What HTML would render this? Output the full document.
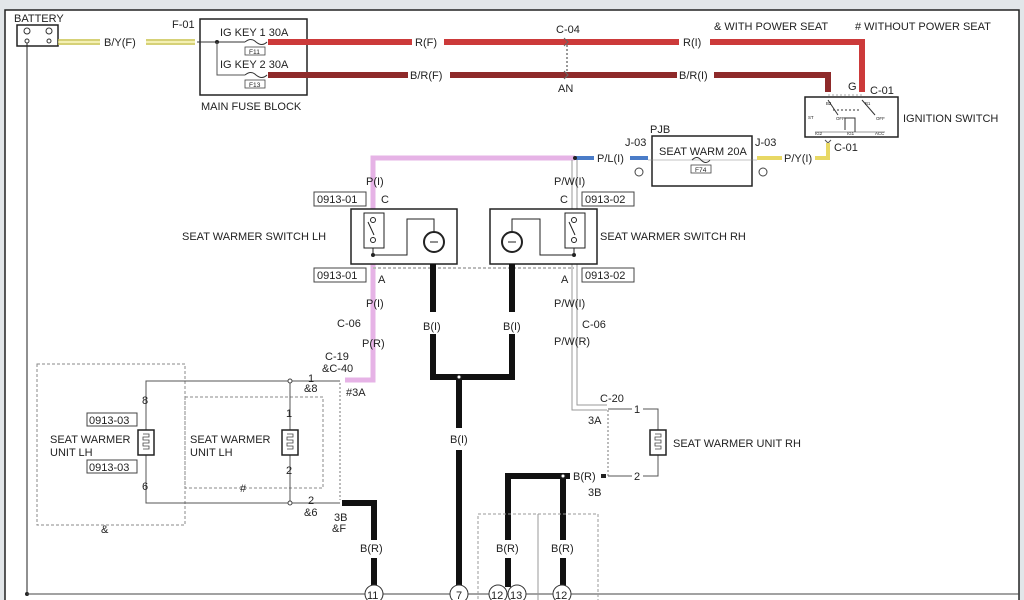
<!DOCTYPE html>
<html><head><meta charset="utf-8"><style>
html,body{margin:0;padding:0;background:#e2e6e9;}
svg{display:block;}
text{font-family:"Liberation Sans",sans-serif;font-size:11px;fill:#222;}
</style></head><body>
<svg width="1024" height="600" viewBox="0 0 1024 600" xmlns="http://www.w3.org/2000/svg">
<rect x="0" y="0" width="1024" height="600" fill="#e2e6e9"/>
<rect x="5" y="10" width="1014" height="600" fill="#fff" stroke="#222" stroke-width="1.5"/>

<!-- battery -->
<text x="14" y="22" font-size="10">BATTERY</text>
<rect x="17" y="25" width="41" height="21" fill="#fff" stroke="#222" stroke-width="1.5"/>
<circle cx="27" cy="31" r="3" fill="none" stroke="#333"/><circle cx="49" cy="31" r="3" fill="none" stroke="#333"/>
<circle cx="27" cy="41" r="2" fill="none" stroke="#333"/><circle cx="49" cy="41" r="2" fill="none" stroke="#333"/>
<line x1="27" y1="43" x2="27" y2="594" stroke="#222"/>
<circle cx="27" cy="594" r="2" fill="#222"/>
<line x1="27" y1="594" x2="1019" y2="594" stroke="#444"/>

<!-- B/Y(F) -->
<g stroke="#c9c24a" stroke-width="1.5"><line x1="58" y1="40" x2="100" y2="40"/><line x1="58" y1="44" x2="100" y2="44"/>
<line x1="146" y1="40" x2="195" y2="40"/><line x1="146" y1="44" x2="195" y2="44"/></g>
<g stroke="#f0ec9a" stroke-width="1.5"><line x1="58" y1="42" x2="100" y2="42"/><line x1="146" y1="42" x2="195" y2="42"/></g>
<text x="104" y="46">B/Y(F)</text>

<!-- main fuse block -->
<text x="172" y="28">F-01</text>
<rect x="200" y="19" width="107" height="76" fill="none" stroke="#222" stroke-width="1.5"/>
<text x="220" y="36" font-size="10">IG KEY 1 30A</text>
<text x="220" y="68" font-size="10">IG KEY 2 30A</text>
<line x1="197" y1="42" x2="245" y2="42" stroke="#333"/>
<circle cx="217" cy="42" r="2" fill="#222"/>
<polyline points="217,42 217,75 245,75" fill="none" stroke="#555"/>
<path d="M245 42 q6 -5 11 0 q6 5 11 0" fill="none" stroke="#333"/>
<path d="M245 75 q6 -5 11 0 q6 5 11 0" fill="none" stroke="#333"/>
<rect x="245" y="47" width="20" height="8" fill="#fff" stroke="#444" stroke-width=".8"/><text transform="translate(249,54) scale(0.6)" font-size="10">F11</text>
<rect x="245" y="80" width="20" height="8" fill="#fff" stroke="#444" stroke-width=".8"/><text transform="translate(249,87) scale(0.6)" font-size="10">F13</text>
<text x="201" y="110">MAIN FUSE BLOCK</text>

<!-- red wires -->
<g stroke="#cc3a3a" stroke-width="6" fill="none">
<line x1="268" y1="42" x2="412" y2="42"/><line x1="444" y1="42" x2="679" y2="42"/>
<polyline points="710,42 862,42 862,92"/></g>
<text x="415" y="46">R(F)</text><text x="683" y="46">R(I)</text>
<g stroke="#8e2a2a" stroke-width="6" fill="none">
<line x1="268" y1="75" x2="408" y2="75"/><line x1="450" y1="75" x2="677" y2="75"/>
<polyline points="714,75 828,75 828,92"/></g>
<text x="410" y="79">B/R(F)</text><text x="679" y="79">B/R(I)</text>
<text x="556" y="33">C-04</text><text x="558" y="92">AN</text>
<line x1="567" y1="45" x2="567" y2="72" stroke="#999" stroke-dasharray="2,2" stroke-width="2"/>
<path d="M564 38 l4 4 -4 4 M564 71 l4 4 -4 4" stroke="#666" fill="none"/>

<text x="714" y="30">&amp; WITH POWER SEAT</text>
<text x="855" y="30"># WITHOUT POWER SEAT</text>

<!-- ignition switch -->
<text x="848" y="90" font-size="12">G</text><text x="870" y="94">C-01</text>
<rect x="805" y="97" width="93" height="40" fill="#fff" stroke="#222" stroke-width="1.5"/>
<line x1="828" y1="95" x2="862" y2="95" stroke="#aaa" stroke-dasharray="2,2"/>
<g stroke="#333" fill="none" stroke-width="1">
<line x1="828" y1="100" x2="838" y2="115"/><line x1="862" y1="100" x2="875" y2="115"/>
<line x1="833" y1="110" x2="860" y2="110" stroke-dasharray="2,2"/>
<polyline points="845,130 845,118 855,118 855,132"/><line x1="815" y1="132" x2="885" y2="132" stroke-width=".5"/></g>
<g font-size="10">
<text transform="translate(808,119) scale(0.4)">ST</text><text transform="translate(836,120) scale(0.4)">OFF</text><text transform="translate(876,120) scale(0.4)">OFF</text>
<text transform="translate(815,135) scale(0.4)">IG2</text><text transform="translate(847,135) scale(0.4)">IG1</text><text transform="translate(875,135) scale(0.4)">ACC</text>
<text transform="translate(826,105) scale(0.4)">B2</text><text transform="translate(865,105) scale(0.4)">B1</text></g>
<text x="903" y="122">IGNITION SWITCH</text>
<text x="834" y="151">C-01</text>
<path d="M825 140 l3 3 3 -3" stroke="#555" fill="none"/>

<!-- P/Y(I) yellow -->
<g stroke="#e8d864" stroke-width="4" fill="none"><line x1="757" y1="158" x2="782" y2="158"/><polyline points="815,158 828,158 828,143"/></g>
<text x="784" y="162">P/Y(I)</text>

<!-- PJB -->
<text x="650" y="133">PJB</text>
<text x="625" y="146">J-03</text><text x="755" y="146">J-03</text>
<rect x="652" y="136" width="100" height="50" fill="#fff" stroke="#222" stroke-width="1.5"/>
<text x="659" y="155" font-size="10">SEAT WARM 20A</text>
<line x1="648" y1="160" x2="757" y2="160" stroke="#888" stroke-width=".6"/>
<path d="M692 160 q5 -5 9 0 q5 5 9 0" fill="none" stroke="#333"/>
<rect x="691" y="165" width="20" height="8" fill="#fff" stroke="#444" stroke-width=".8"/><text transform="translate(695,172) scale(0.6)" font-size="10">F74</text>
<circle cx="639" cy="172" r="4" fill="none" stroke="#444"/><circle cx="763" cy="172" r="4" fill="none" stroke="#444"/>

<!-- P/L(I) blue and pink -->
<g stroke="#4a7cc8" stroke-width="4"><line x1="575" y1="158" x2="594" y2="158"/><line x1="630" y1="158" x2="648" y2="158"/></g>
<text x="597" y="162">P/L(I)</text>
<polyline points="575,158 373,158 373,380 345,380" fill="none" stroke="#e6b3e6" stroke-width="5"/>
<circle cx="575" cy="158" r="2" fill="#222"/>
<!-- gray P/W -->
<g stroke="#999" stroke-width="1" fill="none">
<polyline points="572,160 572,410 607,410"/><polyline points="577,160 577,405 607,405"/></g>

<!-- switches -->
<rect x="351" y="209" width="106" height="55" fill="#fff" stroke="#222" stroke-width="1.5"/>
<rect x="364" y="213" width="20" height="35" fill="none" stroke="#222"/>
<g stroke="#222" fill="none"><circle cx="373" cy="220" r="2.5"/><circle cx="373" cy="240" r="2.5"/><line x1="368" y1="222" x2="374" y2="235"/>
<polyline points="373,248 373,255 407,255 407,219 434,219 434,232"/><circle cx="434" cy="242" r="10" stroke-width="2"/><path d="M430 242 h8"/></g>
<circle cx="373" cy="255" r="2" fill="#222"/>
<rect x="490" y="209" width="107" height="55" fill="#fff" stroke="#222" stroke-width="1.5"/>
<rect x="565" y="213" width="20" height="35" fill="none" stroke="#222"/>
<g stroke="#222" fill="none"><circle cx="574" cy="220" r="2.5"/><circle cx="574" cy="240" r="2.5"/><line x1="569" y1="222" x2="575" y2="235"/>
<polyline points="574,248 574,255 540,255 540,219 512,219 512,232"/><circle cx="512" cy="242" r="10" stroke-width="2"/><path d="M508 242 h8"/></g>
<circle cx="574" cy="255" r="2" fill="#222"/>
<line x1="373" y1="268" x2="574" y2="268" stroke="#bbb" stroke-dasharray="3,2" stroke-width="2"/>

<text x="366" y="185">P(I)</text><text x="554" y="185">P/W(I)</text>
<rect x="314" y="192" width="52" height="14" fill="#fff" stroke="#444"/><text x="317" y="203">0913-01</text><text x="381" y="203">C</text>
<rect x="582" y="192" width="52" height="14" fill="#fff" stroke="#444"/><text x="585" y="203">0913-02</text><text x="560" y="203">C</text>
<rect x="314" y="268" width="52" height="14" fill="#fff" stroke="#444"/><text x="317" y="279">0913-01</text><text x="378" y="283">A</text>
<rect x="582" y="268" width="52" height="14" fill="#fff" stroke="#444"/><text x="585" y="279">0913-02</text><text x="561" y="283">A</text>
<text x="182" y="240">SEAT WARMER SWITCH LH</text><text x="600" y="240">SEAT WARMER SWITCH RH</text>
<text x="366" y="307">P(I)</text><text x="554" y="307">P/W(I)</text>
<text x="337" y="327">C-06</text><text x="582" y="328">C-06</text>
<text x="362" y="347">P(R)</text><text x="554" y="345">P/W(R)</text>

<!-- B(I) thick -->
<g stroke="#111" stroke-width="6" fill="none">
<polyline points="433,264 433,312"/><polyline points="512,264 512,312"/>
<polyline points="433,334 433,377 512,377 512,334"/>
<line x1="459" y1="377" x2="459" y2="428"/><line x1="459" y1="450" x2="459" y2="587"/></g>
<circle cx="459" cy="377" r="2" fill="#fff" stroke="#222"/>
<text x="423" y="330">B(I)</text><text x="503" y="330">B(I)</text><text x="450" y="443">B(I)</text>

<!-- LH units -->
<text x="325" y="360">C-19</text><text x="322" y="372">&amp;C-40</text><text x="346" y="396">#3A</text>
<rect x="37" y="364" width="148" height="161" fill="none" stroke="#888" stroke-dasharray="3,2"/>
<rect x="185" y="397" width="138" height="91" fill="none" stroke="#888" stroke-dasharray="3,2"/>
<text x="101" y="533">&amp;</text><text x="240" y="492">#</text>
<g stroke="#555" fill="none">
<polyline points="340,381 146,381 146,430"/><polyline points="146,455 146,503 340,503"/>
<line x1="290" y1="381" x2="290" y2="503"/></g>
<circle cx="290" cy="381" r="2" fill="#fff" stroke="#444"/><circle cx="290" cy="503" r="2" fill="#fff" stroke="#444"/>
<line x1="340" y1="383" x2="340" y2="500" stroke="#bbb" stroke-dasharray="2,2" stroke-width="2"/>
<rect x="138" y="430" width="16" height="25" fill="#fff" stroke="#222" stroke-width="1.5"/>
<rect x="282" y="430" width="16" height="25" fill="#fff" stroke="#222" stroke-width="1.5"/>
<path d="M143 434 h6 v3 h-6 v3 h6 v3 h-6 v3 h6 v3 h-6" fill="none" stroke="#444" stroke-width=".8"/>
<path d="M287 434 h6 v3 h-6 v3 h6 v3 h-6 v3 h6 v3 h-6" fill="none" stroke="#444" stroke-width=".8"/>
<text x="142" y="404">8</text><text x="142" y="490">6</text>
<text x="286" y="417">1</text><text x="286" y="474">2</text>
<text x="308" y="382">1</text><text x="304" y="392">&amp;8</text>
<text x="308" y="504">2</text><text x="304" y="516">&amp;6</text>
<rect x="87" y="413" width="50" height="13" fill="#fff" stroke="#444"/><text x="89" y="424">0913-03</text>
<rect x="87" y="460" width="50" height="13" fill="#fff" stroke="#444"/><text x="89" y="471">0913-03</text>
<text x="50" y="443">SEAT WARMER</text><text x="50" y="456">UNIT LH</text>
<text x="190" y="443">SEAT WARMER</text><text x="190" y="456">UNIT LH</text>
<text x="334" y="521">3B</text><text x="332" y="532">&amp;F</text>
<g stroke="#111" stroke-width="6" fill="none"><polyline points="342,503 374,503 374,540"/><line x1="374" y1="558" x2="374" y2="587"/></g>
<text x="360" y="552">B(R)</text>

<!-- RH unit -->
<text x="600" y="402">C-20</text><text x="588" y="424">3A</text>
<line x1="608" y1="410" x2="608" y2="476" stroke="#bbb" stroke-dasharray="2,2" stroke-width="2"/>
<g stroke="#555" fill="none"><polyline points="608,409 632,409"/><polyline points="643,409 658,409 658,430"/>
<polyline points="658,455 658,476 643,476"/><line x1="608" y1="476" x2="632" y2="476"/></g>
<text x="634" y="413">1</text><text x="634" y="480">2</text>
<rect x="650" y="430" width="16" height="25" fill="#fff" stroke="#222" stroke-width="1.5"/>
<path d="M655 434 h6 v3 h-6 v3 h6 v3 h-6 v3 h6 v3 h-6" fill="none" stroke="#444" stroke-width=".8"/>
<text x="673" y="447">SEAT WARMER UNIT RH</text>
<text x="573" y="480">B(R)</text><text x="588" y="496">3B</text>
<rect x="601" y="474" width="5" height="4" fill="#222"/>
<g stroke="#111" stroke-width="6" fill="none">
<polyline points="508,540 508,476 570,476"/><line x1="508" y1="558" x2="508" y2="587"/>
<line x1="563" y1="476" x2="563" y2="540"/><line x1="563" y1="558" x2="563" y2="587"/></g>
<circle cx="563" cy="476" r="2" fill="#fff" stroke="#222"/>
<rect x="478" y="514" width="60" height="90" fill="none" stroke="#999" stroke-dasharray="3,2"/>
<rect x="538" y="514" width="60" height="90" fill="none" stroke="#999" stroke-dasharray="3,2"/>
<text x="496" y="552">B(R)</text><text x="551" y="552">B(R)</text>

<!-- circles -->
<g fill="#fff" stroke="#333">
<circle cx="374" cy="594" r="9"/><circle cx="459" cy="594" r="9"/>
<circle cx="498" cy="594" r="9"/><circle cx="517" cy="594" r="9"/><circle cx="562" cy="594" r="9"/></g>
<text x="367" y="599">11</text><text x="456" y="599">7</text><text x="491" y="599">12</text><text x="510" y="599">13</text><text x="555" y="599">12</text>
</svg>
</body></html>
